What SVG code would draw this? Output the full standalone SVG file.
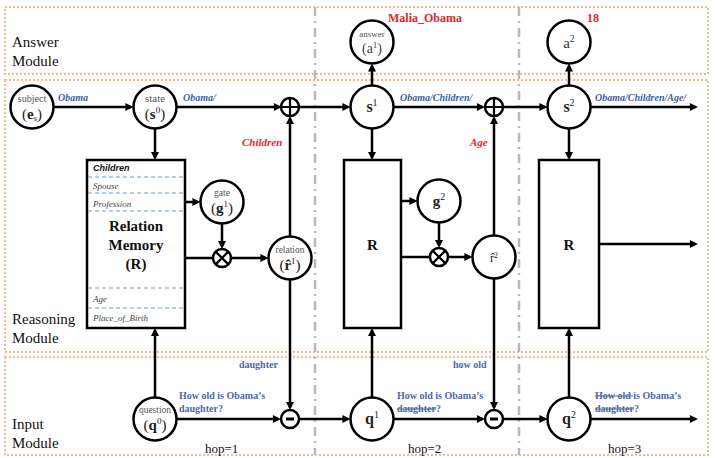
<svg xmlns="http://www.w3.org/2000/svg" width="715" height="458" viewBox="0 0 715 458">
<defs>
<marker id="ah" viewBox="0 0 10 10" refX="7" refY="5" markerWidth="9" markerHeight="8" markerUnits="userSpaceOnUse" orient="auto"><path d="M0,0 L10,5 L0,10 z" fill="#000"/></marker>
</defs>
<style>
text{font-family:"Liberation Serif","Times New Roman",serif}
.mod{fill:none;stroke:#f5b88e;stroke-width:2;stroke-dasharray:2 2}
.hop{fill:none;stroke:#b8b8b8;stroke-width:2.5;stroke-dasharray:9 5 2 5}
.c{fill:#fff;stroke:#000;stroke-width:2.5}
.rc{fill:#fff;stroke:#000;stroke-width:2.5}
.ln{fill:none;stroke:#000;stroke-width:2.5}
.ar{marker-end:url(#ah)}
.sym{fill:none;stroke:#000;stroke-width:2.2}
.mt{font-size:15px;fill:#111}
.lab{font-size:15px;fill:#222;text-anchor:middle}
.sm{font-size:9.5px;fill:#555;text-anchor:middle}
.blue{font-size:10px;font-weight:bold;font-style:italic;fill:#3d5fa5}
.qb{font-size:10px;font-weight:bold;fill:#4a6aaa}
.red{font-size:11px;font-weight:bold;font-style:italic;fill:#e5252a}
.redb{font-size:12px;font-weight:bold;fill:#e5252a}
.dash{stroke:#6c9ccb;stroke-width:1;stroke-dasharray:4 3}
.rel{font-size:9px;font-style:italic;fill:#444}
.hopt{font-size:13px;fill:#111}
.b{font-weight:bold}
.sans{font-family:"Liberation Sans",Arial,sans-serif}
</style>

<g id="modules">
<rect class="mod" x="5" y="7" width="703" height="67"/>
<rect class="mod" x="5" y="80" width="703" height="272"/>
<rect class="mod" x="5" y="357" width="703" height="98"/>
<line class="hop" x1="315" y1="7" x2="315" y2="455"/>
<line class="hop" x1="519" y1="7" x2="519" y2="455"/>
<text class="mt" x="12" y="47">Answer</text>
<text class="mt" x="12" y="66">Module</text>
<text class="mt" x="12" y="324">Reasoning</text>
<text class="mt" x="12" y="343">Module</text>
<text class="mt" x="12" y="429">Input</text>
<text class="mt" x="12" y="448">Module</text>
<text class="hopt" x="205" y="453">hop=1</text>
<text class="hopt" x="408" y="453">hop=2</text>
<text class="hopt" x="608" y="453">hop=3</text>
</g>

<g id="connectors">
<line class="ln ar" x1="53.5" y1="107" x2="131" y2="107"/>
<line class="ln ar" x1="176.5" y1="107" x2="279.5" y2="107"/>
<line class="ln ar" x1="299" y1="107" x2="348" y2="107"/>
<line class="ln ar" x1="393.5" y1="107" x2="482.5" y2="107"/>
<line class="ln ar" x1="503" y1="107" x2="545" y2="107"/>
<line class="ln ar" x1="590.5" y1="107" x2="695.5" y2="107"/>
<line class="ln ar" x1="155" y1="128.5" x2="155" y2="157.5"/>
<line class="ln ar" x1="372" y1="128.5" x2="372" y2="157.5"/>
<line class="ln ar" x1="569" y1="128.5" x2="569" y2="157.5"/>
<line class="ln ar" x1="372" y1="85.5" x2="372" y2="66"/>
<line class="ln ar" x1="569" y1="85.5" x2="569" y2="66"/>
<line class="ln ar" x1="185" y1="202" x2="198" y2="202"/>
<line class="ln ar" x1="222" y1="223.5" x2="222" y2="246.5"/>
<line class="ln" x1="185" y1="258" x2="213" y2="258"/>
<line class="ln ar" x1="231" y1="258" x2="266" y2="258"/>
<line class="ln ar" x1="290" y1="236.5" x2="290" y2="118.5"/>
<line class="ln ar" x1="290" y1="279.5" x2="290" y2="407.5"/>
<line class="ln ar" x1="155" y1="397.5" x2="155" y2="330.5"/>
<line class="ln ar" x1="176.5" y1="419" x2="278.5" y2="419"/>
<line class="ln ar" x1="299" y1="419" x2="348" y2="419"/>
<line class="ln ar" x1="372" y1="397.5" x2="372" y2="330.5"/>
<line class="ln ar" x1="393.5" y1="419" x2="482.5" y2="419"/>
<line class="ln ar" x1="503" y1="419" x2="545" y2="419"/>
<line class="ln ar" x1="590.5" y1="419" x2="695.5" y2="419"/>
<line class="ln ar" x1="401" y1="201" x2="415" y2="201"/>
<line class="ln ar" x1="439" y1="222.5" x2="439" y2="245.5"/>
<line class="ln" x1="401" y1="257" x2="430" y2="257"/>
<line class="ln ar" x1="448" y1="257" x2="470" y2="257"/>
<line class="ln ar" x1="494" y1="235.5" x2="494" y2="118.5"/>
<line class="ln ar" x1="494" y1="278.5" x2="494" y2="407.5"/>
<line class="ln ar" x1="599" y1="244" x2="695.5" y2="244"/>
<line class="ln ar" x1="569" y1="397.5" x2="569" y2="330.5"/>
<text class="blue" x="58" y="101">Obama</text>
<text class="blue" x="183" y="101">Obama/</text>
<text class="blue" x="400" y="101">Obama/Children/</text>
<text class="blue" x="595" y="101">Obama/Children/Age/</text>
<text class="redb" x="388" y="22">Malia_Obama</text>
<text class="redb" x="587" y="22">18</text>
<text class="red" x="242" y="146">Children</text>
<text class="red" x="470" y="146">Age</text>
<text class="qb" x="239" y="368">daughter</text>
<text class="qb" x="453" y="368">how old</text>
<text class="qb" x="179" y="399">How old is Obama’s</text>
<text class="qb" x="179" y="412">daughter?</text>
<text class="qb" x="397" y="399">How old is Obama’s</text>
<text class="qb" x="397" y="412"><tspan text-decoration="line-through">daughter</tspan>?</text>
<text class="qb" x="595" y="399"><tspan text-decoration="line-through">How old </tspan>is Obama’s</text>
<text class="qb" x="595" y="412"><tspan text-decoration="line-through">daughter</tspan>?</text>
</g>

<g id="subject">
<circle class="c" cx="32" cy="107" r="21.5"/>
<text class="sm" x="32" y="102" style="font-size:10px">subject</text>
<text class="lab" x="32" y="119">(<tspan class="b">e</tspan><tspan font-size="9" dy="2">s</tspan><tspan dy="-2">)</tspan></text>
</g>
<g id="state">
<circle class="c" cx="155" cy="107" r="21.5"/>
<text class="sm" x="155" y="102" style="font-size:11px">state</text>
<text class="lab" x="155" y="119">(<tspan class="b">s</tspan><tspan font-size="9" dy="-6">0</tspan><tspan dy="6">)</tspan></text>
</g>
<g id="plus1">
<circle class="c" cx="290" cy="107" r="9"/>
<path class="sym" d="M281,107 H299 M290,98 V116"/>
</g>
<g id="s1">
<circle class="c" cx="372" cy="107" r="21.5"/>
<text class="lab" x="372" y="112"><tspan class="b" font-size="16">s</tspan><tspan font-size="10" dy="-6">1</tspan></text>
</g>
<g id="answer1">
<circle class="c" cx="372" cy="42" r="21.5"/>
<text class="sm" x="372" y="37" style="font-size:9px">answer</text>
<text class="lab" x="372" y="53" style="font-size:14px;fill:#444">(a<tspan font-size="9" dy="-5">1</tspan><tspan dy="5">)</tspan></text>
</g>
<g id="plus2">
<circle class="c" cx="494" cy="107" r="9"/>
<path class="sym" d="M485,107 H503 M494,98 V116"/>
</g>
<g id="s2">
<circle class="c" cx="569" cy="107" r="21.5"/>
<text class="lab" x="569" y="112"><tspan class="b" font-size="16">s</tspan><tspan font-size="10" dy="-6">2</tspan></text>
</g>
<g id="answer2">
<circle class="c" cx="569" cy="42" r="21.5"/>
<text class="lab" x="569" y="48" style="fill:#333">a<tspan font-size="10" dy="-6">2</tspan></text>
</g>

<g id="memory1">
<rect class="rc" x="87" y="160" width="98" height="168"/>
<line class="dash" x1="88" y1="177" x2="184" y2="177"/>
<line class="dash" x1="88" y1="193" x2="184" y2="193"/>
<line class="dash" x1="88" y1="211" x2="184" y2="211"/>
<line class="dash" x1="88" y1="288" x2="184" y2="288"/>
<line class="dash" x1="88" y1="308" x2="184" y2="308"/>
<text class="sans" x="93" y="171" style="font-size:9px;font-weight:bold;font-style:italic;fill:#111">Children</text>
<text class="rel" x="93" y="189">Spouse</text>
<text class="rel" x="93" y="207">Profession</text>
<text class="lab b" x="136" y="231" style="fill:#111">Relation</text>
<text class="lab b" x="136" y="250" style="fill:#111">Memory</text>
<text class="lab b" x="136" y="269" style="fill:#111">(R)</text>
<text class="rel" x="93" y="302">Age</text>
<text class="rel" x="93" y="321">Place_of_Birth</text>
</g>
<g id="gate1">
<circle class="c" cx="222" cy="202" r="21.5"/>
<text class="sm" x="222" y="196">gate</text>
<text class="lab" x="222" y="213">(<tspan class="b">g</tspan><tspan font-size="9" dy="-6">1</tspan><tspan dy="6">)</tspan></text>
</g>
<g id="otimes1">
<circle class="c" cx="222" cy="258" r="9"/>
<path class="sym" d="M215.6,251.6 L228.4,264.4 M228.4,251.6 L215.6,264.4"/>
</g>
<g id="relation1">
<circle class="c" cx="290" cy="258" r="21.5"/>
<text class="sm" x="290" y="253">relation</text>
<text class="lab" x="290" y="270">(<tspan class="b">r̂</tspan><tspan font-size="9" dy="-6">1</tspan><tspan dy="6">)</tspan></text>
</g>

<g id="R2">
<rect class="rc" x="344" y="160" width="57" height="168"/>
<text class="lab b" x="372.5" y="250" style="fill:#111">R</text>
</g>
<g id="g2">
<circle class="c" cx="439" cy="201" r="21.5"/>
<text class="lab" x="439" y="206"><tspan class="b">g</tspan><tspan font-size="10" dy="-6">2</tspan></text>
</g>
<g id="otimes2">
<circle class="c" cx="439" cy="257" r="9"/>
<path class="sym" d="M432.6,250.6 L445.4,263.4 M445.4,250.6 L432.6,263.4"/>
</g>
<g id="relation2">
<circle class="c" cx="494" cy="257" r="21.5"/>
<text class="lab" x="494" y="262" style="font-size:12px">r̂<tspan font-size="8" dy="-4">2</tspan></text>
</g>
<g id="R3">
<rect class="rc" x="539" y="160" width="60" height="168"/>
<text class="lab b" x="569" y="250" style="fill:#111">R</text>
</g>

<g id="q0">
<circle class="c" cx="155" cy="419" r="21.5"/>
<text class="sm" x="155" y="413">question</text>
<text class="lab" x="155" y="430">(<tspan class="b">q</tspan><tspan font-size="9" dy="-6">0</tspan><tspan dy="6">)</tspan></text>
</g>
<g id="minus1">
<circle class="c" cx="290" cy="419" r="9"/>
<line x1="286" y1="419" x2="294" y2="419" stroke="#000" stroke-width="3"/>
</g>
<g id="q1">
<circle class="c" cx="372" cy="419" r="21.5"/>
<text class="lab" x="372" y="424"><tspan class="b" font-size="16">q</tspan><tspan font-size="10" dy="-6">1</tspan></text>
</g>
<g id="minus2">
<circle class="c" cx="494" cy="419" r="9"/>
<line x1="490" y1="419" x2="498" y2="419" stroke="#000" stroke-width="3"/>
</g>
<g id="q2">
<circle class="c" cx="569" cy="419" r="21.5"/>
<text class="lab" x="569" y="424"><tspan class="b" font-size="16">q</tspan><tspan font-size="10" dy="-6">2</tspan></text>
</g>
</svg>
